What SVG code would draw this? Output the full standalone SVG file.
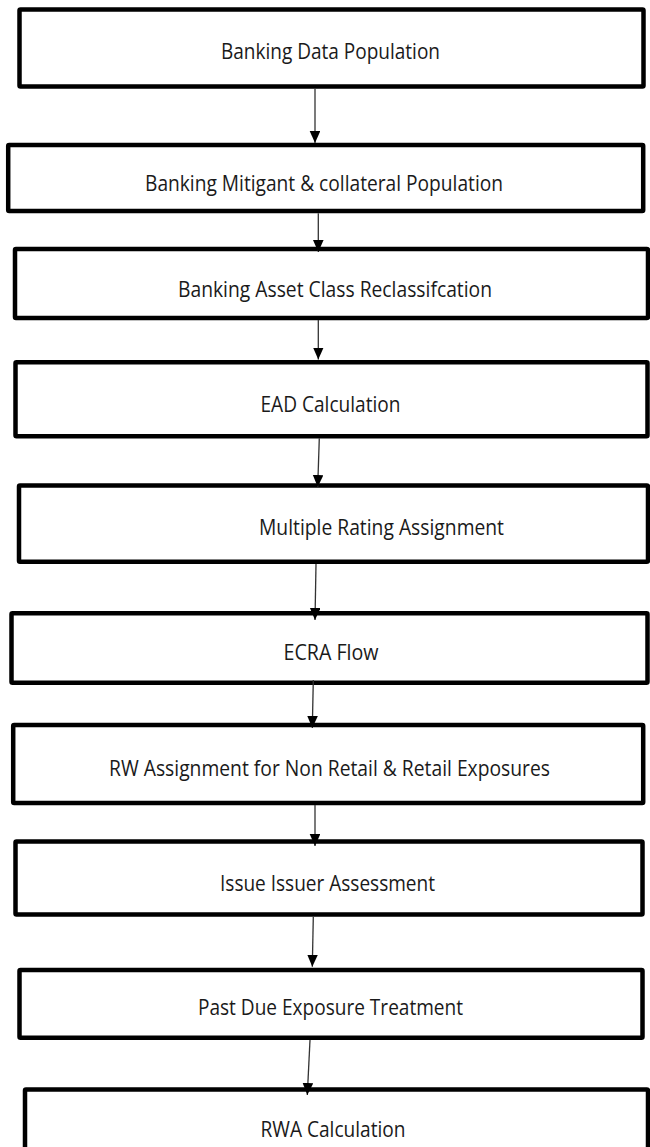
<svg xmlns="http://www.w3.org/2000/svg" width="650" height="1147" viewBox="0 0 650 1147">
<style>
.box{fill:#fff;stroke:#000;stroke-width:4.5}
.lbl{font-family:"Open Sans","Noto Sans","Liberation Sans",sans-serif;font-size:22px;fill:#1a1a1a}
.conn{stroke:#333;stroke-width:1.3;fill:none;marker-end:url(#ah)}
</style>
<defs>
<marker id="ah" markerUnits="userSpaceOnUse" markerWidth="12" markerHeight="11" refX="12" refY="5.3" orient="auto">
<path d="M0,0 L12,5.3 L0,10.6 z" fill="#000"/>
</marker>
</defs>
<rect width="650" height="1147" fill="#fff"/>
<g id="n1"><rect class="box" x="19.5" y="9.5" width="624" height="77" rx="1"/><text class="lbl" x="221" y="59" textLength="219" lengthAdjust="spacingAndGlyphs">Banking Data Population</text></g>
<g id="n2"><rect class="box" x="8.2" y="145" width="635" height="66" rx="1"/><text class="lbl" x="145" y="191" textLength="358" lengthAdjust="spacingAndGlyphs">Banking Mitigant &amp; collateral Population</text></g>
<g id="n3"><rect class="box" x="15" y="249" width="633" height="69" rx="1"/><text class="lbl" x="178" y="297" textLength="314" lengthAdjust="spacingAndGlyphs">Banking Asset Class Reclassifcation</text></g>
<g id="n4"><rect class="box" x="15.5" y="362.2" width="632" height="74" rx="1"/><text class="lbl" x="260.5" y="412" textLength="140" lengthAdjust="spacingAndGlyphs">EAD Calculation</text></g>
<g id="n5"><rect class="box" x="19" y="485.5" width="629" height="76.3" rx="1"/><text class="lbl" x="259" y="535" textLength="245" lengthAdjust="spacingAndGlyphs">Multiple Rating Assignment</text></g>
<g id="n6"><rect class="box" x="11.5" y="613.2" width="636" height="69.5" rx="1"/><text class="lbl" x="283.5" y="660" textLength="95" lengthAdjust="spacingAndGlyphs">ECRA Flow</text></g>
<g id="n7"><rect class="box" x="13.2" y="725" width="630" height="78" rx="1"/><text class="lbl" x="109" y="776" textLength="441" lengthAdjust="spacingAndGlyphs">RW Assignment for Non Retail &amp; Retail Exposures</text></g>
<g id="n8"><rect class="box" x="15.5" y="841.5" width="627" height="73" rx="1"/><text class="lbl" x="220" y="891" textLength="215" lengthAdjust="spacingAndGlyphs">Issue Issuer Assessment</text></g>
<g id="n9"><rect class="box" x="19.5" y="970" width="623" height="67.8" rx="1"/><text class="lbl" x="198" y="1015" textLength="265" lengthAdjust="spacingAndGlyphs">Past Due Exposure Treatment</text></g>
<g id="n10"><rect class="box" x="25" y="1089.5" width="623" height="70" rx="1"/><text class="lbl" x="260.5" y="1137" textLength="145" lengthAdjust="spacingAndGlyphs">RWA Calculation</text></g>
<g id="connectors">
<line class="conn" x1="315" y1="88.7" x2="315" y2="143"/>
<line class="conn" x1="318.3" y1="213.3" x2="318.3" y2="252"/>
<line class="conn" x1="318.3" y1="320" x2="318.3" y2="359.5"/>
<line class="conn" x1="319.3" y1="438.3" x2="317.7" y2="487"/>
<line class="conn" x1="316" y1="564" x2="315" y2="620"/>
<line class="conn" x1="313.3" y1="680" x2="312.3" y2="728"/>
<line class="conn" x1="315" y1="805" x2="315" y2="846"/>
<line class="conn" x1="313.3" y1="916.7" x2="312.3" y2="966.7"/>
<line class="conn" x1="310" y1="1040" x2="307.3" y2="1095"/>
</g>
</svg>
